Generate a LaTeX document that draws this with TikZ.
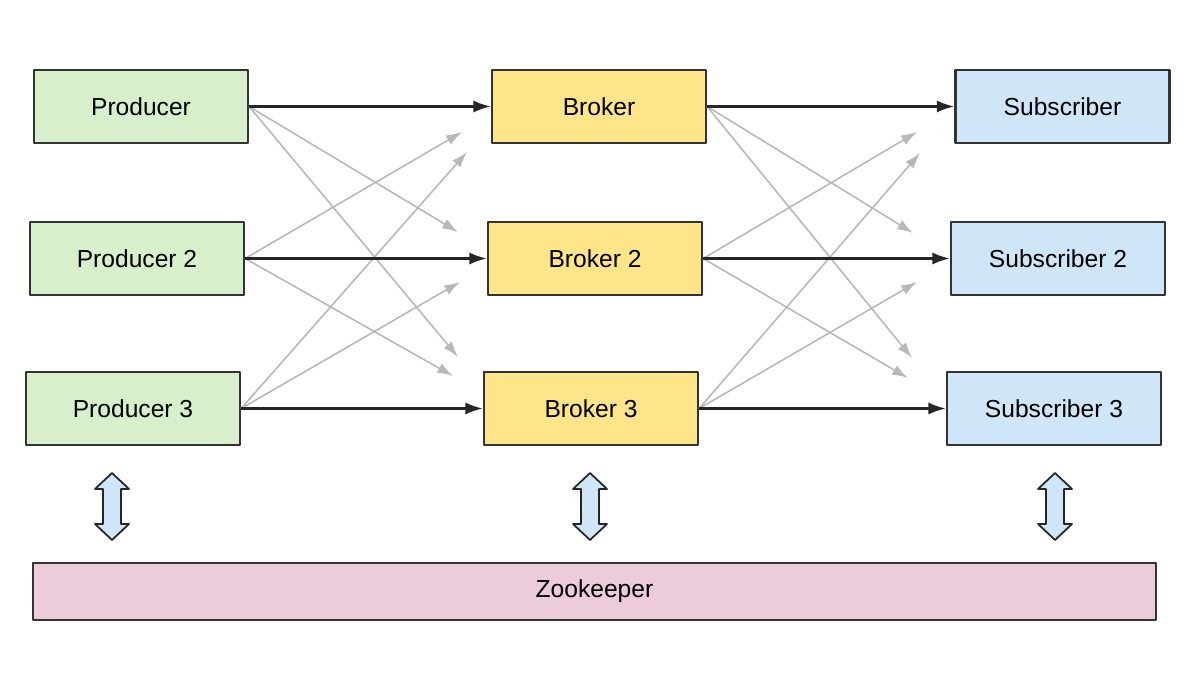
\documentclass[tikz,border=0pt]{standalone}
\usepackage{fontspec}
\setmainfont{Liberation Sans}
\usetikzlibrary{arrows.meta}
\definecolor{prodgreen}{HTML}{D7F0CB}
\definecolor{brokyellow}{HTML}{FFE589}
\definecolor{subblue}{HTML}{CFE5F8}
\definecolor{zoopink}{HTML}{ECCBDB}
\definecolor{crossgray}{HTML}{B7B9B7}
\begin{document}
\begin{tikzpicture}[x=0.02cm, y=-0.02cm, font=\fontsize{14}{16}\selectfont, line join=round,
	box/.style={draw=black!80, line width=1.3pt, minimum width=4.28cm, minimum height=1.46cm, inner sep=0pt},
	main/.style={-{Latex[length=10pt,width=7pt]}, line width=1.5pt, black!85},
	cross/.style={-{Latex[length=9pt,width=6pt]}, line width=0.9pt, crossgray},
	sync/.style={draw=black!85, fill=subblue, line width=1pt}]
	\useasboundingbox (0,0) rectangle (1200,675);
	% producers, brokers, subscribers
	\node[box, fill=prodgreen] (prod1) at (141,106.5) {Producer};
	\node[box, fill=prodgreen] (prod2) at (137,258.5) {Producer 2};
	\node[box, fill=prodgreen] (prod3) at (133,408.5) {Producer 3};
	\node[box, fill=brokyellow] (brok1) at (599,106.5) {Broker};
	\node[box, fill=brokyellow] (brok2) at (595,258.5) {Broker 2};
	\node[box, fill=brokyellow] (brok3) at (591,408.5) {Broker 3};
	\node[box, fill=subblue] (sub1) at (1062.5,106.5) {Subscriber};
	\node[box, fill=subblue] (sub2) at (1058,258.5) {Subscriber 2};
	\node[box, fill=subblue] (sub3) at (1054,408.5) {Subscriber 3};
	\node[box, fill=zoopink, minimum width=22.46cm, minimum height=1.14cm] (zoo) at (594.5,591.5) {Zookeeper};
	% gray cross links
	\foreach \s/\ex/\ey [count=\i] in {prod1/458/232, prod1/458/357, prod2/462/132, prod2/453/376, prod3/467/152, prod3/460/282,
		brok1/913/233, brok1/912/358, brok2/917/132, brok2/908/378, brok3/920/153, brok3/917/282}{
		\coordinate (tip\i) at (\ex,\ey);
		\draw[cross] (\s.east) -- (tip\i);
	}
	% straight links
	\foreach \a/\b in {prod1/brok1, prod2/brok2, prod3/brok3, brok1/sub1, brok2/sub2, brok3/sub3}
		\draw[main] (\a.east) -- (\b.west);
	% zookeeper sync arrows
	\foreach \x in {112,590,1055}
		\draw[sync] (\x,473) -- (\x+17,489) -- (\x+9,489) -- (\x+9,524) -- (\x+17,524) -- (\x,540)
			-- (\x-17,524) -- (\x-9,524) -- (\x-9,489) -- (\x-17,489) -- cycle;
\end{tikzpicture}
\end{document}
